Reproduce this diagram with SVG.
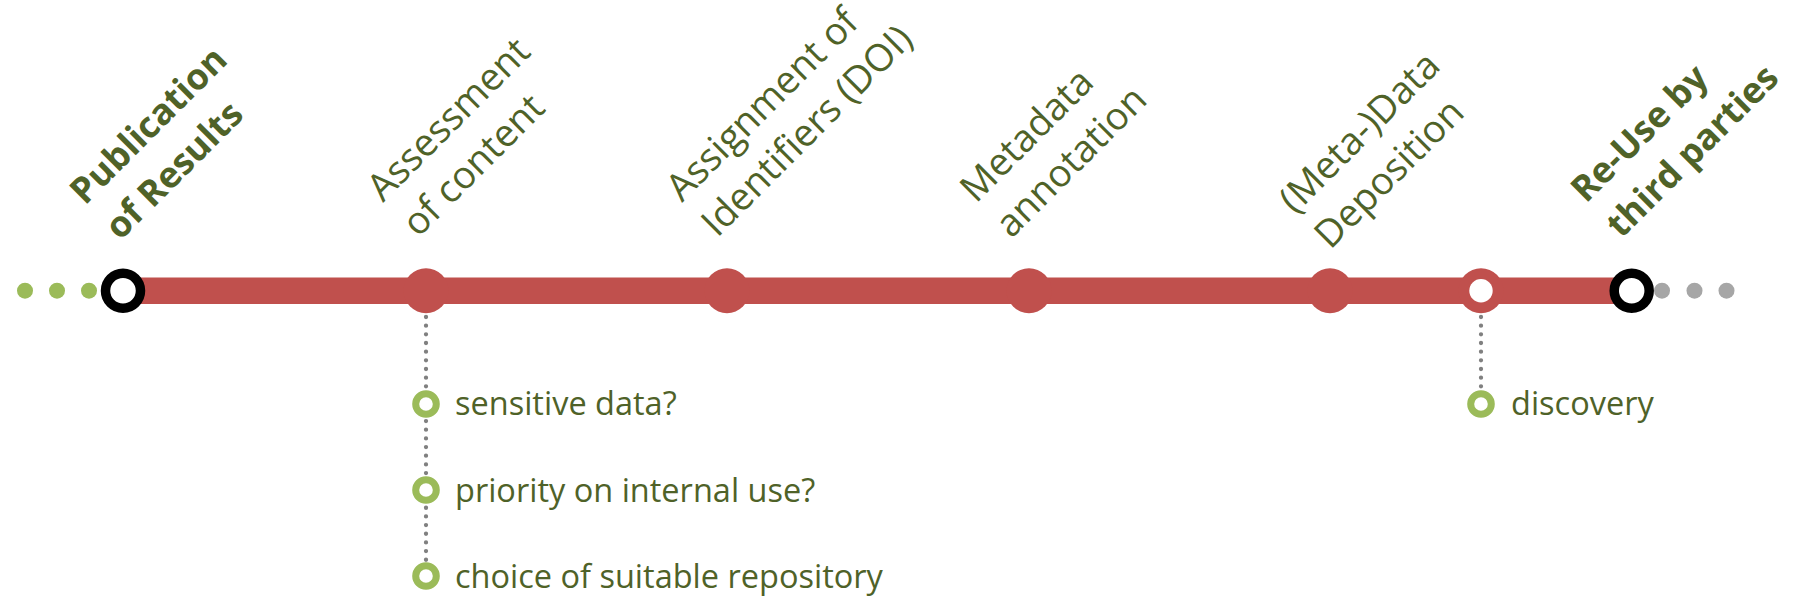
<svg xmlns="http://www.w3.org/2000/svg" width="1793" height="598" viewBox="0 0 1793 598">
<style>
.lbl{font-family:"Open Sans","Noto Sans",sans-serif;font-size:38px;fill:#4F6228}
.lblb{font-family:"Open Sans","Noto Sans",sans-serif;font-size:36px;font-weight:bold;fill:#4F6228}
.sub{font-family:"Open Sans","Noto Sans",sans-serif;font-size:32.5px;fill:#4F6228}
.stop{fill:#C0504D}
.term{fill:#FFFFFF;stroke:#000000;stroke-width:9.5}
.ring{fill:#FFFFFF;stroke:#9BBB59;stroke-width:7}
.gdot{fill:#9BBB59}
.xdot{fill:#A6A6A6}
.dots{stroke:#808080;stroke-width:4.3;stroke-linecap:round;stroke-dasharray:0 8.67;fill:none}
</style>
<rect width="1793" height="598" fill="#FFFFFF"/>
<g id="connectors">
<line x1="123" y1="290.7" x2="1631" y2="290.7" stroke="#C0504D" stroke-width="26.5"/>
<line class="dots" x1="426" y1="317" x2="426" y2="570"/>
<line class="dots" x1="1481" y1="317" x2="1481" y2="395"/>
</g>
<g id="lead-in">
<circle class="gdot" cx="25" cy="290.7" r="8"/>
<circle class="gdot" cx="57" cy="290.7" r="8"/>
<circle class="gdot" cx="89" cy="290.7" r="8"/>
</g>
<g id="lead-out">
<circle class="xdot" cx="1662" cy="290.7" r="8"/>
<circle class="xdot" cx="1694.5" cy="290.7" r="8"/>
<circle class="xdot" cx="1726.5" cy="290.7" r="8"/>
</g>
<g id="node-publication">
<circle class="term" cx="123" cy="290.7" r="17.5"/>
<text class="lblb" transform="translate(85,206) rotate(-45)"><tspan x="0" y="0">Publication</tspan><tspan x="0" y="50">of Results</tspan></text>
</g>
<g id="node-assessment">
<circle class="stop" cx="426" cy="290.7" r="22.5"/>
<text class="lbl" transform="translate(383,203) rotate(-45)"><tspan x="0" y="0">Assessment</tspan><tspan x="0" y="50">of content</tspan></text>
</g>
<g id="node-assignment">
<circle class="stop" cx="727" cy="290.7" r="22.5"/>
<text class="lbl" transform="translate(682,203) rotate(-45)"><tspan x="0" y="0">Assignment of</tspan><tspan x="0" y="50">Identifiers (DOI)</tspan></text>
</g>
<g id="node-metadata">
<circle class="stop" cx="1029" cy="290.7" r="22.5"/>
<text class="lbl" transform="translate(976,204) rotate(-45)"><tspan x="0" y="0">Metadata</tspan><tspan x="0" y="50">annotation</tspan></text>
</g>
<g id="node-deposition">
<circle class="stop" cx="1330" cy="290.7" r="22.5"/>
<text class="lbl" transform="translate(1295,215) rotate(-45)"><tspan x="0" y="0">(Meta-)Data</tspan><tspan x="0" y="50">Deposition</tspan></text>
</g>
<g id="node-discovery-stop">
<circle class="stop" cx="1481" cy="290.7" r="22.5"/>
<circle fill="#FFFFFF" cx="1481" cy="290.7" r="11.7"/>
</g>
<g id="node-reuse">
<circle class="term" cx="1631.7" cy="290.7" r="17.5"/>
<text class="lblb" transform="translate(1586,204) rotate(-45)"><tspan x="0" y="0">Re-Use by</tspan><tspan x="0" y="50">third parties</tspan></text>
</g>
<g id="sub-sensitive">
<circle class="ring" cx="426" cy="404" r="10.3"/>
<text class="sub" x="455" y="415">sensitive data?</text>
</g>
<g id="sub-priority">
<circle class="ring" cx="426" cy="490" r="10.3"/>
<text class="sub" x="455" y="502">priority on internal use?</text>
</g>
<g id="sub-repository">
<circle class="ring" cx="426" cy="576" r="10.3"/>
<text class="sub" x="455" y="588">choice of suitable repository</text>
</g>
<g id="sub-discovery">
<circle class="ring" cx="1481" cy="404" r="10.3"/>
<text class="sub" x="1511" y="415">discovery</text>
</g>
</svg>
